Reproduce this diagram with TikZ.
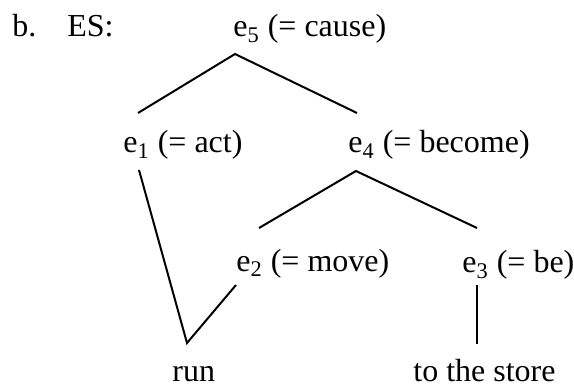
\documentclass[tikz,border=0pt]{standalone}
\usepackage{fontspec}
\setmainfont{Liberation Serif}
\begin{document}
\begin{tikzpicture}[
    x=0.5pt, y=-0.5pt,
    lbl/.style={inner sep=0pt, anchor=base west, font=\fontsize{16}{19}\selectfont},
    edge/.style={line width=1pt}
]
    \useasboundingbox (0,0) rectangle (574,385);

    % labels
    \node [lbl] (b) at (12, 37) {b.};
    \node [lbl] (es) at (67, 37) {ES:};
    \node [lbl] (e5) at (233, 37) {e\textsubscript{5} (= cause)};
    \node [lbl] (e1) at (123, 153) {e\textsubscript{1} (= act)};
    \node [lbl] (e4) at (348, 153) {e\textsubscript{4} (= become)};
    \node [lbl] (e2) at (236, 271) {e\textsubscript{2} (= move)};
    \node [lbl] (e3) at (462, 273) {e\textsubscript{3} (= be)};
    \node [lbl] (run) at (172, 381) {run};
    \node [lbl] (store) at (413, 381) {to the store};

    % tree
    \draw [edge] ([shift={(15,-40)}]e1.base west) -- ([shift={(2,17)}]e5.base west) -- ([shift={(9,-40)}]e4.base west);
    \draw [edge] ([shift={(16,17)}]e1.base west) -- ([shift={(15,-38)}]run.base west) -- ([shift={(0,14)}]e2.base west);
    \draw [edge] ([shift={(23,-43)}]e2.base west) -- ([shift={(8,18)}]e4.base west) -- ([shift={(15,-45)}]e3.base west);
    \draw [edge] ([shift={(15,12)}]e3.base west) -- ([shift={(64,-37)}]store.base west);

\end{tikzpicture}
\end{document}
